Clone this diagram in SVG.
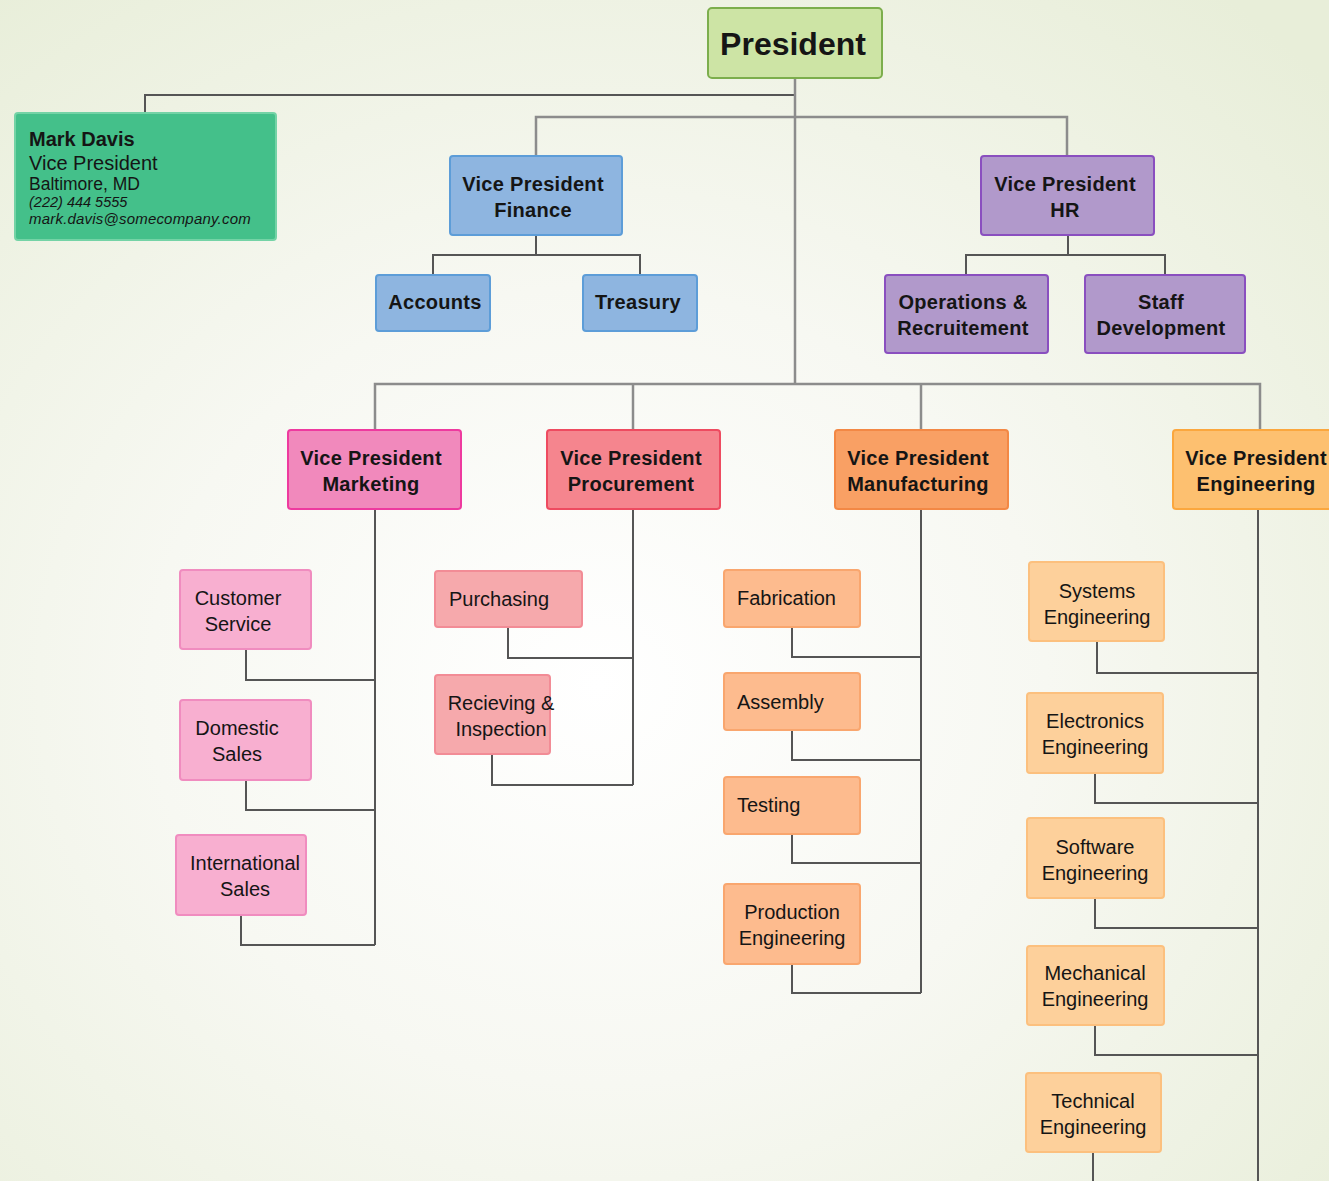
<svg xmlns="http://www.w3.org/2000/svg" width="1329" height="1181" viewBox="0 0 1329 1181">
<defs>
<radialGradient id="bg" cx="45%" cy="58%" r="75%">
<stop offset="0" stop-color="#ffffff"/>
<stop offset="0.45" stop-color="#f7f8f2"/>
<stop offset="1" stop-color="#e8eed9"/>
</radialGradient>
<style>
text{font-family:"Liberation Sans",Arial,sans-serif;fill:#151515}
.b{font-weight:bold;font-size:20px;letter-spacing:0.3px}
.r{font-size:20px}
.m{text-anchor:middle}
.c1{stroke:#555;stroke-width:2;fill:none}
.c2{stroke:#8c8c8c;stroke-width:2.5;fill:none}
.pres{fill:#cde4a5;stroke:#7cae4c;stroke-width:2}
.md{fill:#44c08a;stroke:#74d3a6;stroke-width:2}
.fin{fill:#8eb5e0;stroke:#5d9dd8;stroke-width:2}
.hr{fill:#b199cb;stroke:#8a4fbf;stroke-width:2}
.mkt{fill:#f189bc;stroke:#ee3a9f;stroke-width:2}
.mkc{fill:#f8afd0;stroke:#f08cbf;stroke-width:2}
.pro{fill:#f5858e;stroke:#ee4b60;stroke-width:2}
.prc{fill:#f6a9ac;stroke:#f28c96;stroke-width:2}
.man{fill:#f9a064;stroke:#f38845;stroke-width:2}
.mnc{fill:#fdbb8e;stroke:#f9a66e;stroke-width:2}
.eng{fill:#fdc070;stroke:#fba73e;stroke-width:2}
.enc{fill:#fdd09b;stroke:#fcc07e;stroke-width:2}
</style>
</defs>
<rect width="1329" height="1181" fill="url(#bg)"/>

<g id="connectors">
<path class="c1" d="M795 78 V95 H145 V113"/>
<path class="c2" d="M795 78 V384"/>
<path class="c2" d="M536 156 V117 H1067 V156"/>
<path class="c2" d="M375 430 V384 H1260 V430"/>
<path class="c2" d="M633 384 V430"/>
<path class="c2" d="M921 384 V430"/>
<path class="c1" d="M536 235 V255 M433 275 V255 H640 V275"/>
<path class="c1" d="M1068 235 V255 M966 275 V255 H1165 V275"/>
<path class="c1" d="M375 509 V945"/>
<path class="c1" d="M246 649 V680 H375"/>
<path class="c1" d="M246 780 V810 H375"/>
<path class="c1" d="M241 915 V945 H375"/>
<path class="c1" d="M633 509 V785"/>
<path class="c1" d="M508 627 V658 H633"/>
<path class="c1" d="M492 754 V785 H633"/>
<path class="c1" d="M921 509 V993"/>
<path class="c1" d="M792 627 V657 H921"/>
<path class="c1" d="M792 730 V760 H921"/>
<path class="c1" d="M792 834 V863 H921"/>
<path class="c1" d="M792 964 V993 H921"/>
<path class="c1" d="M1258 509 V1181"/>
<path class="c1" d="M1097 641 V673 H1258"/>
<path class="c1" d="M1095 773 V803 H1258"/>
<path class="c1" d="M1095 898 V928 H1258"/>
<path class="c1" d="M1095 1025 V1055 H1258"/>
<path class="c1" d="M1093 1152 V1181"/>
</g>

<g id="president"><rect class="pres" x="708" y="8" width="174" height="70" rx="4"/><text x="793" y="55" class="m" style="font-weight:bold;font-size:32px">President</text></g>

<g id="mark-davis"><rect class="md" x="15" y="113" width="261" height="127" rx="3"/>
<text x="29" y="146" style="font-weight:bold;font-size:20px">Mark Davis</text>
<text x="29" y="170" style="font-size:20px">Vice President</text>
<text x="29" y="190" style="font-size:17.5px">Baltimore, MD</text>
<text x="29" y="207" style="font-size:14.5px;font-style:italic">(222) 444 5555</text>
<text x="29" y="224" style="font-size:15px;font-style:italic;letter-spacing:0.2px">mark.davis@somecompany.com</text>
</g>

<g id="vp-finance"><rect class="fin" x="450" y="156" width="172" height="79" rx="3"/><text x="533" y="191" class="b m">Vice President</text><text x="533" y="217" class="b m">Finance</text></g>
<g id="accounts"><rect class="fin" x="376" y="275" width="114" height="56" rx="3"/><text x="435" y="309" class="b m">Accounts</text></g>
<g id="treasury"><rect class="fin" x="583" y="275" width="114" height="56" rx="3"/><text x="638" y="309" class="b m">Treasury</text></g>

<g id="vp-hr"><rect class="hr" x="981" y="156" width="173" height="79" rx="3"/><text x="1065" y="191" class="b m">Vice President</text><text x="1065" y="217" class="b m">HR</text></g>
<g id="operations"><rect class="hr" x="885" y="275" width="163" height="78" rx="3"/><text x="963" y="309" class="b m">Operations &amp;</text><text x="963" y="335" class="b m">Recruitement</text></g>
<g id="staff-dev"><rect class="hr" x="1085" y="275" width="160" height="78" rx="3"/><text x="1161" y="309" class="b m">Staff</text><text x="1161" y="335" class="b m">Development</text></g>

<g id="vp-marketing"><rect class="mkt" x="288" y="430" width="173" height="79" rx="3"/><text x="371" y="465" class="b m">Vice President</text><text x="371" y="491" class="b m">Marketing</text></g>
<g id="vp-procurement"><rect class="pro" x="547" y="430" width="173" height="79" rx="3"/><text x="631" y="465" class="b m">Vice President</text><text x="631" y="491" class="b m">Procurement</text></g>
<g id="vp-manufacturing"><rect class="man" x="835" y="430" width="173" height="79" rx="3"/><text x="918" y="465" class="b m">Vice President</text><text x="918" y="491" class="b m">Manufacturing</text></g>
<g id="vp-engineering"><rect class="eng" x="1173" y="430" width="170" height="79" rx="3"/><text x="1256" y="465" class="b m">Vice President</text><text x="1256" y="491" class="b m">Engineering</text></g>

<g id="customer-service"><rect class="mkc" x="180" y="570" width="131" height="79" rx="3"/><text x="238" y="605" class="r m">Customer</text><text x="238" y="631" class="r m">Service</text></g>
<g id="domestic-sales"><rect class="mkc" x="180" y="700" width="131" height="80" rx="3"/><text x="237" y="735" class="r m">Domestic</text><text x="237" y="761" class="r m">Sales</text></g>
<g id="international-sales"><rect class="mkc" x="176" y="835" width="130" height="80" rx="3"/><text x="245" y="870" class="r m">International</text><text x="245" y="896" class="r m">Sales</text></g>

<g id="purchasing"><rect class="prc" x="435" y="571" width="147" height="56" rx="3"/><text x="449" y="606" class="r">Purchasing</text></g>
<g id="receiving"><rect class="prc" x="435" y="675" width="115" height="79" rx="3"/><text x="501" y="710" class="r m">Recieving &amp;</text><text x="501" y="736" class="r m">Inspection</text></g>

<g id="fabrication"><rect class="mnc" x="724" y="570" width="136" height="57" rx="3"/><text x="737" y="605" class="r">Fabrication</text></g>
<g id="assembly"><rect class="mnc" x="724" y="673" width="136" height="57" rx="3"/><text x="737" y="709" class="r">Assembly</text></g>
<g id="testing"><rect class="mnc" x="724" y="777" width="136" height="57" rx="3"/><text x="737" y="812" class="r">Testing</text></g>
<g id="production-eng"><rect class="mnc" x="724" y="884" width="136" height="80" rx="3"/><text x="792" y="919" class="r m">Production</text><text x="792" y="945" class="r m">Engineering</text></g>

<g id="systems-eng"><rect class="enc" x="1029" y="562" width="135" height="79" rx="3"/><text x="1097" y="598" class="r m">Systems</text><text x="1097" y="624" class="r m">Engineering</text></g>
<g id="electronics-eng"><rect class="enc" x="1027" y="693" width="136" height="80" rx="3"/><text x="1095" y="728" class="r m">Electronics</text><text x="1095" y="754" class="r m">Engineering</text></g>
<g id="software-eng"><rect class="enc" x="1027" y="818" width="137" height="80" rx="3"/><text x="1095" y="854" class="r m">Software</text><text x="1095" y="880" class="r m">Engineering</text></g>
<g id="mechanical-eng"><rect class="enc" x="1027" y="946" width="137" height="79" rx="3"/><text x="1095" y="980" class="r m">Mechanical</text><text x="1095" y="1006" class="r m">Engineering</text></g>
<g id="technical-eng"><rect class="enc" x="1026" y="1073" width="135" height="79" rx="3"/><text x="1093" y="1108" class="r m">Technical</text><text x="1093" y="1134" class="r m">Engineering</text></g>
</svg>
